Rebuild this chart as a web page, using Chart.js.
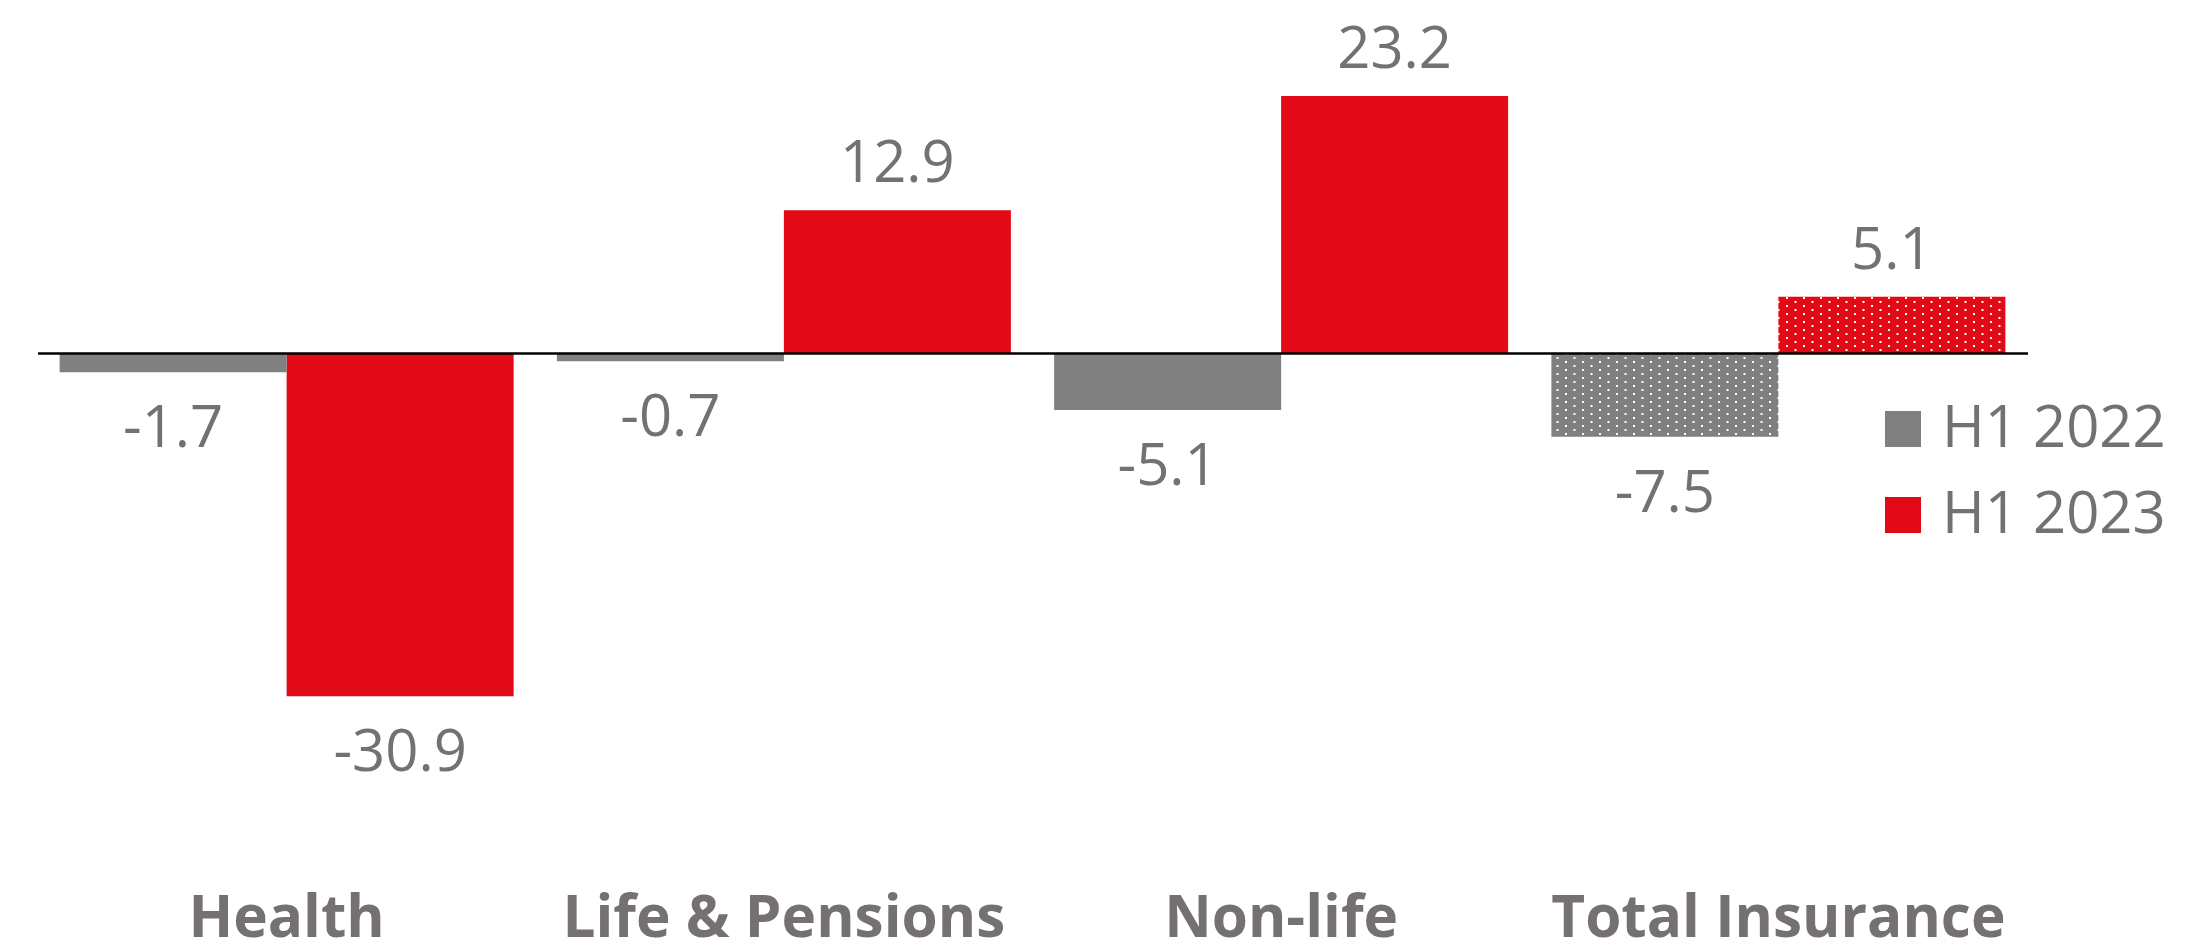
<!DOCTYPE html>
<html>
<head>
<meta charset="utf-8">
<script src="https://cdn.jsdelivr.net/npm/chart.js@4.4.1/dist/chart.umd.min.js"></script>
<style>
  html, body { margin: 0; padding: 0; background: #ffffff; }
  #wrap { width: 2203px; height: 947px; }
</style>
</head>
<body>
<div id="wrap"><canvas id="c" width="2203" height="947"></canvas></div>
<script>
const categories = ['Health', 'Life & Pensions', 'Non-life', 'Total Insurance'];
const seriesLabels = ['H1 2022', 'H1 2023'];
const h1_2022 = [-1.7, -0.7, -5.1, -7.5];
const h1_2023 = [-30.9, 12.9, 23.2, 5.1];
const patternedIndex = 3;

const GRAY = '#808080';
const RED = '#E20A17';
const TEXT = '#767171';
const FONT = '"Open Sans", "Noto Sans", sans-serif';

function makePattern(color) {
  const t = document.createElement('canvas');
  t.width = 17; t.height = 8;
  const g = t.getContext('2d');
  g.fillStyle = color;
  g.fillRect(0, 0, 17, 8);
  g.fillStyle = '#ffffff';
  g.fillRect(1, 1, 2, 2);
  g.fillRect(9.5, 5, 2, 2);
  return g.createPattern(t, 'repeat');
}

function colorsFor(base) {
  return categories.map((_, i) => i === patternedIndex ? makePattern(base) : base);
}

const zeroLine = {
  id: 'zeroLine',
  afterDatasetsDraw(chart) {
    const { ctx, chartArea, scales } = chart;
    const y = scales.y.getPixelForValue(0);
    ctx.save();
    ctx.strokeStyle = '#000000';
    ctx.lineWidth = 2.6;
    ctx.beginPath();
    ctx.moveTo(chartArea.left, y);
    ctx.lineTo(chartArea.right + 1, y);
    ctx.stroke();
    ctx.restore();
  }
};

const valueLabels = {
  id: 'valueLabels',
  afterDatasetsDraw(chart) {
    const { ctx } = chart;
    ctx.save();
    ctx.fillStyle = TEXT;
    ctx.font = '58px ' + FONT;
    ctx.textAlign = 'center';
    ctx.textBaseline = 'alphabetic';
    chart.data.datasets.forEach((ds, di) => {
      const meta = chart.getDatasetMeta(di);
      meta.data.forEach((el, i) => {
        const v = ds.data[i];
        const txt = v.toFixed(1);
        const y = v >= 0 ? el.y - 28 : el.y + 75;
        ctx.fillText(txt, el.x, y);
      });
    });
    ctx.restore();
  }
};

const sideLegend = {
  id: 'sideLegend',
  afterDraw(chart) {
    const { ctx, chartArea } = chart;
    const x0 = chartArea.right - 142;
    const rows = [411, 497];
    ctx.save();
    ctx.font = '58px ' + FONT;
    ctx.textAlign = 'left';
    ctx.textBaseline = 'alphabetic';
    chart.data.datasets.forEach((ds, di) => {
      const top = rows[di];
      ctx.fillStyle = ds.legendColor;
      ctx.fillRect(x0, top, 36, 36);
      ctx.fillStyle = TEXT;
      ctx.fillText(ds.label, x0 + 57, top + 36);
    });
    ctx.restore();
  }
};

new Chart(document.getElementById('c'), {
  type: 'bar',
  data: {
    labels: categories,
    datasets: [
      { label: seriesLabels[0], data: h1_2022, backgroundColor: colorsFor(GRAY), legendColor: GRAY,
        categoryPercentage: 0.913, barPercentage: 1.0, borderWidth: 0 },
      { label: seriesLabels[1], data: h1_2023, backgroundColor: colorsFor(RED), legendColor: RED,
        categoryPercentage: 0.913, barPercentage: 1.0, borderWidth: 0 }
    ]
  },
  options: {
    responsive: false,
    animation: false,
    devicePixelRatio: 1,
    layout: { padding: { left: 38, right: 176, top: 0, bottom: -3 } },
    plugins: { legend: { display: false }, tooltip: { enabled: false } },
    scales: {
      x: {
        grid: { display: false, drawTicks: false },
        border: { display: false },
        ticks: {
          color: TEXT,
          padding: 0,
          font: { family: FONT, size: 58.5, weight: 'bold', lineHeight: 1.0 },
          maxRotation: 0, autoSkip: false
        }
      },
      y: {
        display: false,
        min: -48.5,
        max: 31.86
      }
    }
  },
  plugins: [zeroLine, valueLabels, sideLegend]
});
</script>
</body>
</html>
